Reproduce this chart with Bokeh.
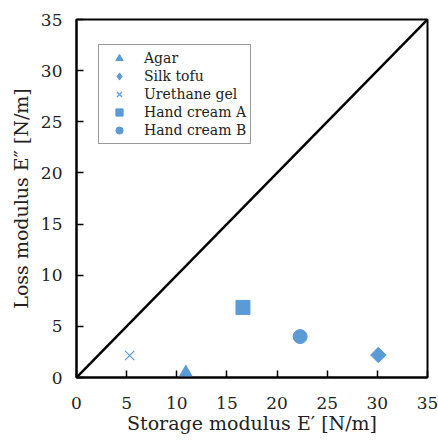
import math
from bokeh.plotting import figure
from bokeh.models import Legend, LegendItem, Range1d
from bokeh.embed import file_html
from bokeh.resources import INLINE

materials = ["Agar", "Silk tofu", "Urethane gel", "Hand cream A", "Hand cream B"]
markers = ["triangle", "square", "x", "square", "circle"]
legend_markers = ["triangle", "diamond", "x", "square", "circle"]
angles = [0, math.pi / 4, 0, 0, 0]
storage = [10.9, 30.1, 5.3, 16.6, 22.3]
loss = [0.35, 2.2, 2.15, 6.85, 4.0]
ticks = [0, 5, 10, 15, 20, 25, 30, 35]
line_x = [0, 35]
line_y = [0, 35]

FONT = "DejaVu Serif"
BLUE = "#5b9bd5"

p = figure(width=438, height=441, output_backend="svg", toolbar_location=None,
           x_range=Range1d(0, 35), y_range=Range1d(0, 35),
           min_border_left=76, min_border_right=11, min_border_top=19, min_border_bottom=64)
p.grid.visible = False
p.outline_line_color = "black"
p.outline_line_width = 2
p.background_fill_color = "white"
p.border_fill_color = "white"

p.line(line_x, line_y, line_color="black", line_width=2.5)

sizes = [15, 11, 13, 14, 14]
items = []
for name, mk, lmk, ang, sz, xv, yv in zip(materials, markers, legend_markers, angles, sizes, storage, loss):
    if mk == "x":
        r = p.scatter([xv], [yv], marker=mk, size=sz, line_color=BLUE, line_width=1.2, fill_color=None)
    else:
        r = p.scatter([xv], [yv], marker=mk, size=sz, angle=ang, fill_color=BLUE, line_color=BLUE)
    if lmk != mk:
        r = p.scatter([xv], [yv], marker=lmk, size=sz, fill_color=BLUE, line_color=BLUE, visible=False)
    items.append(LegendItem(label=name, renderers=[r]))

leg = Legend(items=items, location=(22, 233), label_text_font=FONT, label_text_font_size="14px",
             label_text_color="#222222",
             border_line_color="#333333", border_line_width=1.5, padding=4, spacing=0,
             label_height=18, glyph_height=18, glyph_width=32, label_standoff=9, margin=0,
             background_fill_alpha=1)
p.add_layout(leg, "center")

for ax in (p.xaxis, p.yaxis):
    ax.ticker = ticks
    ax.major_tick_in = 7
    ax.major_tick_out = 0
    ax.minor_tick_line_color = None
    ax.major_tick_line_color = "black"
    ax.major_tick_line_width = 1.5
    ax.axis_line_color = "black"
    ax.axis_line_width = 2
    ax.major_label_text_font = FONT
    ax.major_label_text_font_size = "17px"
    ax.major_label_text_color = "#222222"
    ax.axis_label_text_font = FONT
    ax.axis_label_text_font_size = "19px"
    ax.axis_label_text_font_style = "normal"
    ax.axis_label_text_color = "#222222"

p.xaxis.axis_label = "Storage modulus E\u2032 [N/m]"
p.yaxis.axis_label = "Loss modulus E\u2033 [N/m]"
p.xaxis.major_label_standoff = 19
p.yaxis.major_label_standoff = 14
p.xaxis.axis_label_standoff = 0
p.yaxis.axis_label_standoff = 6

open("out.html", "w").write(file_html(p, INLINE))
